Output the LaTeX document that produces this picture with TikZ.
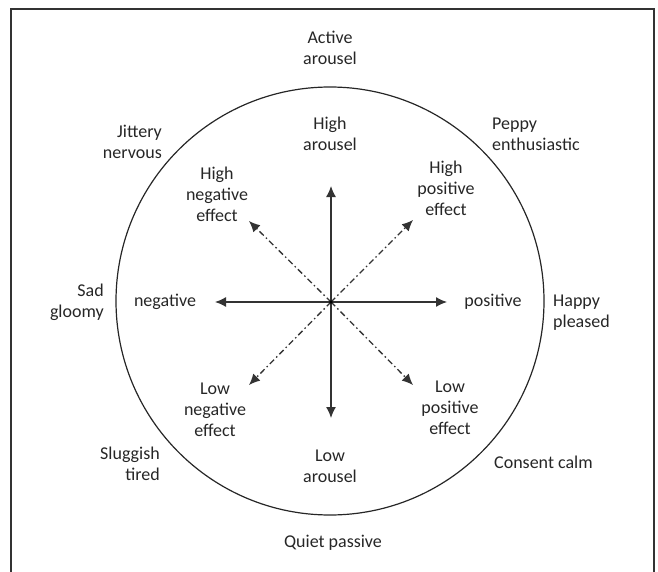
\documentclass[tikz,border=0pt]{standalone}
\usepackage{fontspec}
\setmainfont{Carlito}
\usetikzlibrary{arrows.meta}
\begin{document}
\begin{tikzpicture}[x=1pt,y=-1pt,
  lbl/.style={font=\fontsize{18}{21}\selectfont, text=black!85, inner sep=0pt, align=center},
  lblr/.style={lbl, align=right, anchor=east},
  lbll/.style={lbl, align=left, anchor=west},
  axis/.style={draw=black!80, line width=1.3pt, -{Latex[length=11pt,width=10pt]}},
  diag/.style={draw=black!80, line width=1.3pt, dash pattern=on 6pt off 3pt on 1.5pt off 3pt, -{Latex[length=11pt,width=10pt]}},
  frame/.style={draw=black!80, line width=1.5pt}]
\useasboundingbox (0,0) rectangle (658,572);
% open frame around the diagram
\coordinate (fbl) at (11,572);
\coordinate (ftl) at (11,9);
\coordinate (ftr) at (654,9);
\coordinate (fbr) at (654,572);
\draw[frame] (fbl) -- (ftl) -- (ftr) -- (fbr);
% circumplex circle
\coordinate (c) at (330,301);
\draw[black!85, line width=1.2pt] (c) circle[radius=214];
% axes from the origin
\coordinate (o) at (331,302);
\coordinate (up) at (331,186);
\coordinate (dn) at (331,418);
\coordinate (lt) at (215,302);
\coordinate (rt) at (447,302);
\coordinate (ul) at (249,221);
\coordinate (ur) at (413,220);
\coordinate (ll) at (249,385);
\coordinate (lr) at (413,385);
\draw[axis] (o) -- (up);
\draw[axis] (o) -- (dn);
\draw[axis] (o) -- (lt);
\draw[axis] (o) -- (rt);
\draw[diag] (o) -- (ul);
\draw[diag] (o) -- (ur);
\draw[diag] (o) -- (ll);
\draw[diag] (o) -- (lr);
\fill[black] (o) circle[radius=1.8];
% labels outside the circle
\node[lbl] (active) at (330,48) {Active\\arousel};
\node[lblr] (jittery) at (162,142) {Jittery\\nervous};
\node[lbll] (peppy) at (492,134) {Peppy\\enthusiastic};
\node[lblr] (sad) at (104,302) {Sad\\gloomy};
\node[lbll] (happy) at (553,313) {Happy\\pleased};
\node[lblr] (sluggish) at (160,464) {Sluggish\\tired};
\node[lbll] (calm) at (494,462) {Consent calm};
\node[lbl] (quiet) at (333,543) {Quiet passive};
% labels inside the circle
\node[lbl] (higha) at (330,134) {High\\arousel};
\node[lbl] (highneg) at (217,194) {High\\negative\\effect};
\node[lbl] (highpos) at (446,188) {High\\positive\\effect};
\node[lbl] (neg) at (165,302) {negative};
\node[lbl] (pos) at (493,302) {positive};
\node[lbl] (lowneg) at (215,410) {Low\\negative\\effect};
\node[lbl] (lowpos) at (450,408) {Low\\positive\\effect};
\node[lbl] (lowa) at (330,466) {Low\\arousel};
\end{tikzpicture}
\end{document}
